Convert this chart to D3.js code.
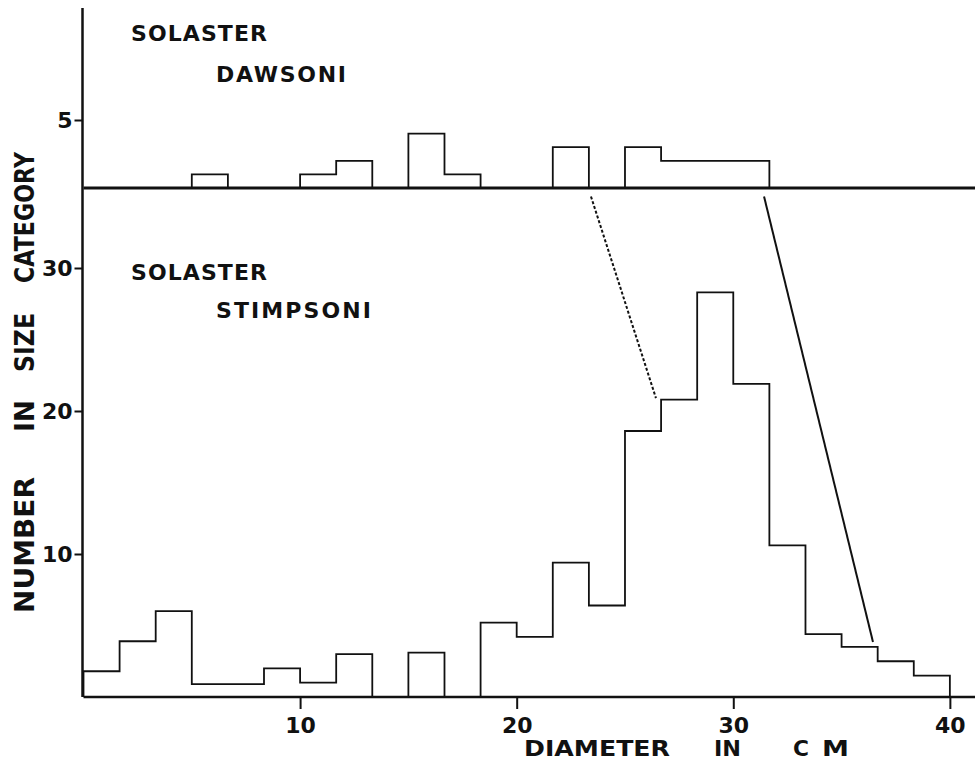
<!DOCTYPE html>
<html>
<head>
<meta charset="utf-8">
<script src="https://cdn.jsdelivr.net/npm/d3@7"></script>
<style>
  body { margin: 0; background: #fff; }
  text { font-family: "DejaVu Sans", sans-serif; font-weight: bold; fill: #111; }
</style>
</head>
<body>
<svg id="chart"></svg>
<script>
// size classes are 5/3 cm wide, starting at 0
const binWidth = 5 / 3;
// Solaster dawsoni, number per size class
const dawsoni = [0, 0, 0, 1, 0, 0, 1, 2, 0, 4, 1, 0, 0, 3, 0, 3, 2, 2, 2];
// Solaster stimpsoni, number per size class
const stimpsoni = [1.8, 3.9, 6, 0.9, 0.9, 2, 1, 3, 0, 3.1, 0, 5.2, 4.2, 9.4, 6.4,
                   18.6, 20.8, 28.3, 21.9, 10.6, 4.4, 3.5, 2.5, 1.5];
const xTicks = [10, 20, 30, 40];
const topTicks = [5];
const bottomTicks = [10, 20, 30];
// connecting lines: diameter at the dawsoni baseline -> point on stimpsoni plot
const dashedLink = [{x: 23.43, y: 35}, {x: 26.43, y: 20.9}];
const solidLink = [{x: 31.42, y: 35}, {x: 36.45, y: 3.85}];

const width = 975, height = 763;
const svg = d3.select('#chart')
    .attr('width', width).attr('height', height)
    .attr('viewBox', [0, 0, width, height]);

const x = d3.scaleLinear().domain([0, 41.16]).range([83.5, 975]);
const yTop = d3.scaleLinear().domain([0, 5]).range([188, 120]);
const yBot = d3.scaleLinear().domain([0, 30]).range([697, 268]);

// outline of each run of non-empty classes as a stepped path
const runs = values => {
  const out = [];
  let cur = null;
  values.forEach((v, i) => {
    if (v > 0) {
      if (!cur) { cur = [[i * binWidth, 0]]; out.push(cur); }
      cur.push([i * binWidth, v], [(i + 1) * binWidth, v]);
    } else if (cur) {
      cur.push([cur[cur.length - 1][0], 0]);
      cur = null;
    }
  });
  if (cur) cur.push([cur[cur.length - 1][0], 0]);
  return out;
};

const drawHist = (values, y) => {
  const line = d3.line().x(d => x(d[0])).y(d => y(d[1]));
  svg.append('g')
      .attr('fill', 'none')
      .attr('stroke', '#111')
      .attr('stroke-width', 1.8)
    .selectAll('path')
    .data(runs(values))
    .join('path')
      .attr('d', line);
};

drawHist(dawsoni, yTop);
drawHist(stimpsoni, yBot);

// baselines
svg.append('line')
    .attr('x1', x(0)).attr('x2', width)
    .attr('y1', yTop(0)).attr('y2', yTop(0))
    .attr('stroke', '#111').attr('stroke-width', 3);
svg.append('line')
    .attr('x1', x(0)).attr('x2', width)
    .attr('y1', yBot(0)).attr('y2', yBot(0))
    .attr('stroke', '#111').attr('stroke-width', 2.5);
// vertical axis
svg.append('line')
    .attr('x1', x(0) - 1).attr('x2', x(0) - 1)
    .attr('y1', 8).attr('y2', yBot(0))
    .attr('stroke', '#111').attr('stroke-width', 2.5);

const styleAxis = g => {
  g.select('.domain').remove();
  g.selectAll('line').attr('stroke', '#111').attr('stroke-width', 2);
  g.selectAll('text')
      .attr('font-family', '"DejaVu Sans", sans-serif')
      .attr('font-weight', 'bold')
      .attr('font-size', 22)
      .attr('fill', '#111');
};

svg.append('g')
    .attr('transform', `translate(${x(0) - 1},0)`)
    .call(d3.axisLeft(yTop).tickValues(topTicks).tickFormat(d3.format('d')).tickSize(8).tickPadding(2))
    .call(styleAxis);
svg.append('g')
    .attr('transform', `translate(${x(0) - 1},0)`)
    .call(d3.axisLeft(yBot).tickValues(bottomTicks).tickFormat(d3.format('d')).tickSize(8).tickPadding(2))
    .call(styleAxis);
svg.append('g')
    .attr('transform', `translate(0,${yBot(0)})`)
    .call(d3.axisBottom(x).tickValues(xTicks).tickFormat(d3.format('d')).tickSize(12))
    .call(styleAxis)
    .call(g => g.selectAll('text').attr('y', 36).attr('dy', null));

// links between the two plots
const link = d3.line().x(d => x(d.x)).y(d => yBot(d.y));
svg.append('path')
    .attr('d', link(dashedLink))
    .attr('fill', 'none').attr('stroke', '#111')
    .attr('stroke-width', 2).attr('stroke-dasharray', '3,2');
svg.append('path')
    .attr('d', link(solidLink))
    .attr('fill', 'none').attr('stroke', '#111')
    .attr('stroke-width', 2);

// species names
const names = [
  {t: 'SOLASTER', x: 131, y: 41, len: 136},
  {t: 'DAWSONI', x: 216, y: 82, len: 130},
  {t: 'SOLASTER', x: 131, y: 280, len: 136},
  {t: 'STIMPSONI', x: 216, y: 318, len: 155}
];
svg.append('g').selectAll('text')
  .data(names)
  .join('text')
    .attr('x', d => d.x).attr('y', d => d.y)
    .attr('font-size', 22)
    .attr('textLength', d => d.len)
    .attr('lengthAdjust', 'spacing')
    .text(d => d.t);

// axis titles, word by word
const yWords = [
  {t: 'NUMBER', from: 613, len: 136},
  {t: 'IN', from: 432, len: 32},
  {t: 'SIZE', from: 372, len: 59},
  {t: 'CATEGORY', from: 283, len: 131}
];
svg.append('g').selectAll('text')
  .data(yWords)
  .join('text')
    .attr('transform', d => `translate(34,${d.from}) rotate(-90)`)
    .attr('font-size', 27)
    .attr('textLength', d => d.len)
    .attr('lengthAdjust', 'spacingAndGlyphs')
    .text(d => d.t);

const xWords = [
  {t: 'DIAMETER', from: 524, len: 146},
  {t: 'IN', from: 714, len: 27},
  {t: 'C', from: 793, len: 16},
  {t: 'M', from: 822, len: 27}
];
svg.append('g').selectAll('text')
  .data(xWords)
  .join('text')
    .attr('x', d => d.from).attr('y', 756)
    .attr('font-size', 21)
    .attr('textLength', d => d.len)
    .attr('lengthAdjust', 'spacingAndGlyphs')
    .text(d => d.t);
</script>
</body>
</html>
